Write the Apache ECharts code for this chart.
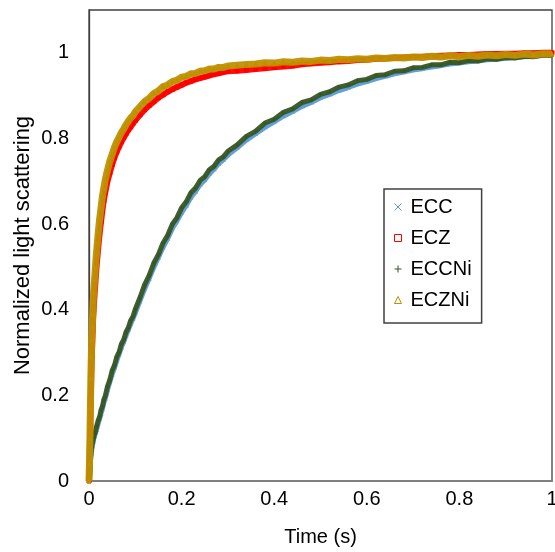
<!DOCTYPE html>
<html>
<head>
<meta charset="utf-8">
<script src="https://cdn.jsdelivr.net/npm/echarts@6/dist/echarts.min.js"></script>
<style>html,body{margin:0;padding:0;background:#fff;overflow:hidden;}#c{width:555px;height:552px;}</style>
</head>
<body>
<div id="c"></div>
<script>
// Time (s)
var time = [0, 0.001, 0.002, 0.003, 0.004, 0.005, 0.006, 0.007, 0.008, 0.009, 0.010,
  0.012, 0.014, 0.016, 0.018, 0.020,
  0.023, 0.026, 0.029, 0.032, 0.035,
  0.040, 0.045, 0.050, 0.055, 0.060, 0.065, 0.070, 0.075, 0.080, 0.085, 0.090, 0.095, 0.100,
  0.11, 0.12, 0.13, 0.14, 0.15, 0.16, 0.17, 0.18, 0.19, 0.20, 0.21, 0.22, 0.23, 0.24, 0.25, 0.26, 0.27, 0.28, 0.29, 0.30,
  0.32, 0.34, 0.36, 0.38, 0.40, 0.42, 0.44, 0.46, 0.48, 0.50, 0.52, 0.54, 0.56, 0.58, 0.60, 0.62, 0.64, 0.66, 0.68, 0.70,
  0.72, 0.74, 0.76, 0.78, 0.80, 0.82, 0.84, 0.86, 0.88, 0.90, 0.92, 0.94, 0.96, 0.98, 1.00];

var ECC = [0, 0.008, 0.025, 0.045, 0.055, 0.066, 0.074, 0.082, 0.087, 0.092, 0.097,
  0.105, 0.112, 0.12, 0.127, 0.135,
  0.146, 0.158, 0.169, 0.182, 0.192,
  0.213, 0.231, 0.249, 0.264, 0.281, 0.296, 0.312, 0.325, 0.34, 0.353, 0.367, 0.379, 0.392,
  0.42, 0.448, 0.473, 0.499, 0.522, 0.546, 0.566, 0.59, 0.607, 0.627, 0.643, 0.662, 0.676, 0.692, 0.703, 0.717, 0.728, 0.741, 0.75, 0.761,
  0.778, 0.796, 0.811, 0.826, 0.839, 0.852, 0.863, 0.875, 0.884, 0.895, 0.903, 0.912, 0.919, 0.927, 0.933, 0.94, 0.945, 0.951, 0.955, 0.96,
  0.963, 0.967, 0.97, 0.974, 0.976, 0.979, 0.981, 0.984, 0.985, 0.987, 0.989, 0.991, 0.992, 0.994, 0.995];

var ECZ = [0, 0.03, 0.08, 0.14, 0.20, 0.25, 0.29, 0.32, 0.35, 0.38, 0.40,
  0.435, 0.465, 0.495, 0.52, 0.545,
  0.578, 0.605, 0.632, 0.655, 0.673,
  0.70, 0.72, 0.739, 0.755, 0.769, 0.781, 0.792, 0.802, 0.811, 0.82, 0.827, 0.835, 0.842,
  0.855, 0.867, 0.877, 0.886, 0.895, 0.902, 0.909, 0.915, 0.92, 0.925, 0.93, 0.934, 0.938, 0.941, 0.944, 0.947, 0.95, 0.952, 0.955, 0.957,
  0.958, 0.96, 0.962, 0.964, 0.966, 0.968, 0.97, 0.973, 0.975, 0.977, 0.978, 0.98, 0.981, 0.983, 0.984, 0.986, 0.987, 0.988, 0.989, 0.99,
  0.991, 0.992, 0.993, 0.994, 0.995, 0.995, 0.996, 0.997, 0.997, 0.998, 0.998, 0.999, 0.999, 1.0, 1.0];

var ECCNi = [0, 0.01, 0.03, 0.05, 0.06, 0.072, 0.078, 0.087, 0.09, 0.097, 0.10,
  0.11, 0.115, 0.126, 0.13, 0.142,
  0.15, 0.166, 0.174, 0.19, 0.198,
  0.221, 0.236, 0.258, 0.27, 0.29, 0.301, 0.32, 0.33, 0.348, 0.358, 0.375, 0.384, 0.401,
  0.428, 0.458, 0.48, 0.509, 0.529, 0.556, 0.574, 0.6, 0.615, 0.638, 0.652, 0.673, 0.684, 0.702, 0.711, 0.727, 0.735, 0.75, 0.757, 0.77,
  0.785, 0.805, 0.817, 0.836, 0.845, 0.861, 0.869, 0.884, 0.89, 0.903, 0.909, 0.92, 0.925, 0.935, 0.938, 0.947, 0.949, 0.957, 0.958, 0.965,
  0.966, 0.972, 0.972, 0.978, 0.977, 0.982, 0.981, 0.986, 0.985, 0.989, 0.988, 0.992, 0.991, 0.995, 0.994];

var ECZNi = [0, 0.04, 0.10, 0.17, 0.24, 0.29, 0.33, 0.36, 0.39, 0.42, 0.44,
  0.47, 0.50, 0.53, 0.555, 0.58,
  0.612, 0.638, 0.665, 0.684, 0.703,
  0.726, 0.747, 0.763, 0.779, 0.792, 0.803, 0.814, 0.822, 0.832, 0.84, 0.848, 0.853, 0.862,
  0.874, 0.886, 0.894, 0.905, 0.911, 0.921, 0.925, 0.933, 0.936, 0.943, 0.945, 0.951, 0.952, 0.957, 0.958, 0.962, 0.962, 0.966, 0.966, 0.969,
  0.971, 0.973, 0.974, 0.977, 0.976, 0.979, 0.978, 0.981, 0.98, 0.983, 0.982, 0.985, 0.984, 0.986, 0.985, 0.988, 0.987, 0.989, 0.988, 0.99,
  0.989, 0.992, 0.99, 0.993, 0.991, 0.994, 0.992, 0.995, 0.993, 0.996, 0.994, 0.997, 0.995, 0.998, 0.997];

var seriesNames = ['ECC', 'ECZ', 'ECCNi', 'ECZNi'];
var seriesValues = [ECC, ECZ, ECCNi, ECZNi];
var colors = ['#5B9BD5', '#FF0000', '#375623', '#BF9000'];
var X_PATH = 'path://M0,0L10,10M10,0L0,10';
var PLUS_PATH = 'path://M5,0L5,10M0,5L10,5';
var symbols = [X_PATH, 'rect', PLUS_PATH, 'triangle'];
var widths = [5, 6, 5, 7];

var FONT = 'Liberation Sans, Arial, sans-serif';
var chart = echarts.init(document.getElementById('c'), null, {renderer: 'canvas', width: 555, height: 552});

var series = seriesNames.map(function (name, k) {
  return {
    name: name,
    type: 'line',
    data: time.map(function (t, i) { return [t, seriesValues[k][i]]; }),
    symbol: symbols[k],
    symbolSize: 4,
    showAllSymbol: true,
    lineStyle: {color: colors[k], width: widths[k], opacity: 0.95},
    itemStyle: {color: colors[k], borderColor: colors[k], borderWidth: 1},
    z: 2 + k
  };
});

chart.setOption({
  animation: false,
  backgroundColor: '#fff',
  grid: {left: 89, right: 3, top: 10, bottom: 71, containLabel: false, outerBoundsMode: 'none',
    show: true, borderColor: '#404040', borderWidth: 1.3, backgroundColor: 'transparent'},
  xAxis: {
    type: 'value', min: 0, max: 1, interval: 0.2,
    name: 'Time (s)', nameLocation: 'middle', nameGap: 46, nameMoveOverlap: false,
    nameTextStyle: {fontSize: 20, color: '#000', fontFamily: FONT},
    axisLine: {show: true, lineStyle: {color: '#7F7F7F', width: 2}},
    axisTick: {show: false},
    splitLine: {show: false},
    axisLabel: {fontSize: 20, color: '#000', fontFamily: FONT, margin: 8}
  },
  yAxis: {
    type: 'value', min: 0, max: 1.1, interval: 0.2,
    name: 'Normalized light scattering', nameLocation: 'middle', nameGap: 55, nameMoveOverlap: false,
    nameTextStyle: {fontSize: 22, color: '#000', fontFamily: FONT},
    axisLine: {show: true, lineStyle: {color: '#404040', width: 1.3}},
    axisTick: {show: false},
    splitLine: {show: false},
    axisLabel: {fontSize: 20, color: '#000', fontFamily: FONT, margin: 20, showMaxLabel: false}
  },
  legend: {
    orient: 'vertical', left: 384, top: 189,
    backgroundColor: '#fff', borderColor: '#404040', borderWidth: 1.5,
    padding: [8, 10, 13, 10], itemGap: 11, itemWidth: 7, itemHeight: 7,
    textStyle: {fontSize: 20, color: '#000', fontFamily: FONT, padding: [0, 0, 0, 4]},
    data: [
      {name: 'ECC', icon: X_PATH, itemStyle: {color: colors[0], borderColor: colors[0], borderWidth: 1}},
      {name: 'ECZ', icon: 'rect', itemStyle: {color: '#fff', borderColor: colors[1], borderWidth: 1}},
      {name: 'ECCNi', icon: PLUS_PATH, itemStyle: {color: colors[2], borderColor: colors[2], borderWidth: 1}},
      {name: 'ECZNi', icon: 'triangle', itemStyle: {color: '#fff', borderColor: colors[3], borderWidth: 1}}
    ]
  },
  series: series
});
</script>
</body>
</html>
